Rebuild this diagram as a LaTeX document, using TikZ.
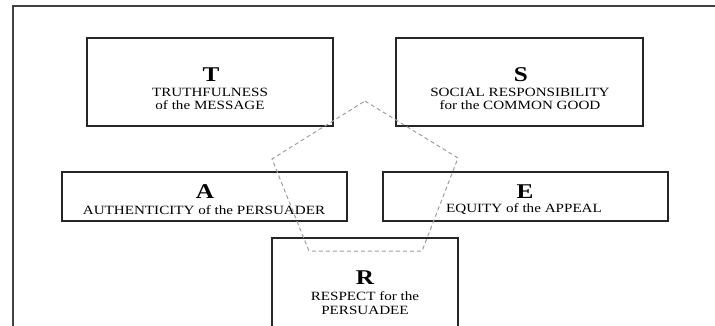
\documentclass[tikz,border=0pt]{standalone}
\usepackage{fontspec}
\setmainfont{Liberation Serif}[FakeStretch=1.2]
\usetikzlibrary{positioning}

\tikzset{
  box/.style={draw=black!85, line width=1.2pt},
  initial/.style={font=\fontsize{21}{21}\selectfont\bfseries, anchor=base, inner sep=0pt},
  caption/.style={font=\fontsize{12.6}{13.5}\selectfont, align=center, anchor=base, inner sep=0pt},
}

\begin{document}
\begin{tikzpicture}[x=1pt, y=-1pt]
\clip (0,0) rectangle (715,326);
\fill[white] (0,0) rectangle (715,326);

% frame
\draw[gray!50!black, line width=2pt] (13,330) -- (13,6) -- (720,6);

% T box
\draw[box] (87,38) rectangle (333,126);
\node[initial] (t) at (211,82) {T};
\node[caption] (tcap) at (210,110) {TRUTHFULNESS\\of the MESSAGE};

% S box
\draw[box] (396,38) rectangle (643,126);
\node[initial] (s) at (521,82) {S};
\node[caption] (scap) at (520,110) {SOCIAL RESPONSIBILITY\\for the COMMON GOOD};

% A box
\draw[box] (62,172) rectangle (347,221);
\node[initial] (a) at (205,198) {A};
\node[caption] (acap) at (204,214) {AUTHENTICITY of the PERSUADER};

% E box
\draw[box] (383,172) rectangle (668,221);
\node[initial] (e) at (525,198) {E};
\node[caption] (ecap) at (524,212) {EQUITY of the APPEAL};

% R box
\draw[box] (272,238) rectangle (458,340);
\node[initial] (r) at (365,284) {R};
\node[caption] (rcap) at (365,314) {RESPECT for the\\PERSUADEE};

% pentagon
\draw[gray!75, line width=1pt, dash pattern=on 4pt off 3pt]
  (365,101) -- (458,158) -- (422,251) -- (309,251) -- (272,159) -- cycle;
\end{tikzpicture}
\end{document}
